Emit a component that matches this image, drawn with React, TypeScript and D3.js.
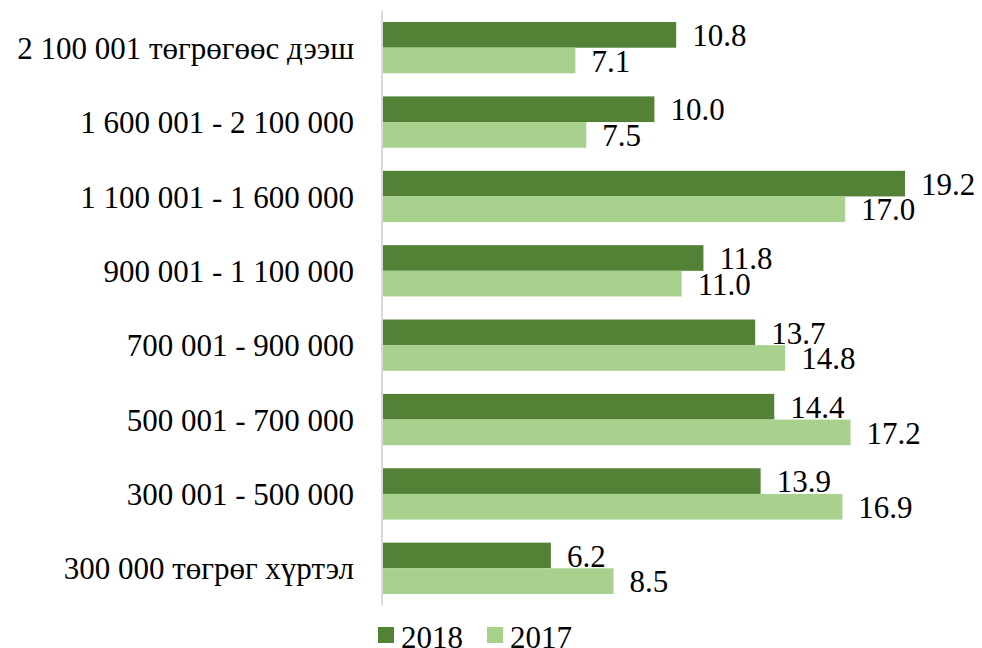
import React from "react";
import * as d3 from "d3";

const categories = [
  "2 100 001 төгрөгөөс дээш",
  "1 600 001 - 2 100 000",
  "1 100 001 - 1 600 000",
  "900 001 - 1 100 000",
  "700 001 - 900 000",
  "500 001 - 700 000",
  "300 001 - 500 000",
  "300 000 төгрөг хүртэл",
];
const seriesNames = ["2018", "2017"];
const values2018 = [10.8, 10.0, 19.2, 11.8, 13.7, 14.4, 13.9, 6.2];
const values2017 = [7.1, 7.5, 17.0, 11.0, 14.8, 17.2, 16.9, 8.5];
const colors = ["#538135", "#A9D18E"];

const W = 982;
const H = 648;
const FONT = "Liberation Serif";
const FS = 31;

export default function App() {
  const x = d3.scaleLinear().domain([0, 20]).range([382, 382 + 544.8]);
  const y = d3
    .scaleBand<string>()
    .domain(categories)
    .range([10.5, 605.5])
    .paddingInner(0.31)
    .paddingOuter(0.155);
  const inner = d3.scaleBand<string>().domain(seriesNames).range([0, y.bandwidth()]);
  const seriesValues = [values2018, values2017];
  const ts = { fontFamily: FONT, fontSize: FS };

  return (
    <svg width={W} height={H} style={{ position: "absolute", left: 0, top: 0, background: "#fff" }}>
      <rect width={W} height={H} fill="#fff" />
      {categories.map((c, i) => (
        <g key={c}>
          <text
            x={354}
            y={(y(c) as number) + y.bandwidth() / 2}
            dy="0.36em"
            textAnchor="end"
            style={ts}
            fill="#000"
          >
            {c}
          </text>
          {seriesNames.map((s, j) => {
            const v = seriesValues[j][i];
            const by = (y(c) as number) + (inner(s) as number);
            return (
              <g key={s}>
                <rect
                  x={x(0)}
                  y={by}
                  width={x(v) - x(0)}
                  height={inner.bandwidth()}
                  fill={colors[j]}
                />
                <text
                  x={x(v) + 16}
                  y={by + inner.bandwidth() / 2}
                  dy="0.36em"
                  style={ts}
                  fill="#000"
                >
                  {v.toFixed(1)}
                </text>
              </g>
            );
          })}
        </g>
      ))}
      <line x1={x(0)} x2={x(0)} y1={10.5} y2={605.5} stroke="#d9d9d9" strokeWidth={2} />
      {seriesNames.map((s, j) => {
        const lx = 378 + j * 109;
        return (
          <g key={s}>
            <rect x={lx} y={627} width={16} height={16} fill={colors[j]} />
            <text x={lx + 23} y={648} style={ts} fill="#000">
              {s}
            </text>
          </g>
        );
      })}
    </svg>
  );
}
